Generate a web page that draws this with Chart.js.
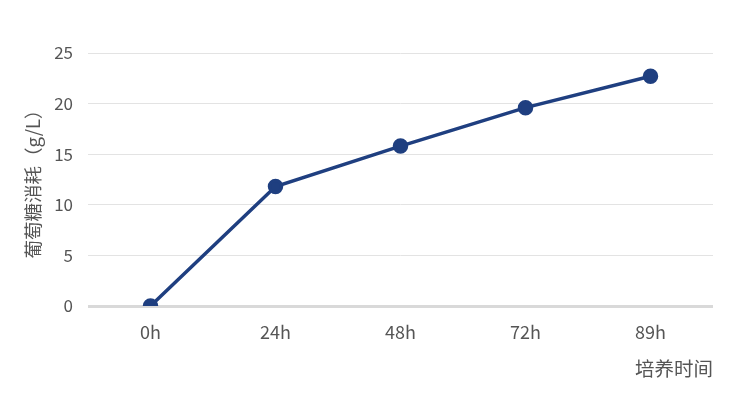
<!DOCTYPE html>
<html>
<head>
<meta charset="utf-8">
<script src="https://cdn.jsdelivr.net/npm/chart.js@4"></script>
<style>
  html, body { margin: 0; padding: 0; background: #fff; }
  #wrap { width: 730px; height: 400px; }
</style>
</head>
<body>
<div id="wrap"><canvas id="grafico" width="730" height="400"></canvas></div>
<script>
// datos
const horas = ['0h', '24h', '48h', '72h', '89h'];
const consumo = [0, 11.8, 15.8, 19.6, 22.7];
const ticksY = [0, 5, 10, 15, 20, 25];

const fuente = '"Noto Sans CJK SC", "Noto Sans", sans-serif';
const colorTexto = '#555555';
const azul = '#1f3f80';

const ctx = document.getElementById('grafico').getContext('2d');

new Chart(ctx, {
    type: 'line',
    data: {
        labels: horas,
        datasets: [{
            label: '葡萄糖消耗',
            data: consumo,
            borderColor: azul,
            backgroundColor: azul,
            borderWidth: 3.5,
            pointRadius: 6,
            pointHoverRadius: 6,
            pointBackgroundColor: azul,
            pointBorderColor: azul,
            tension: 0
        }]
    },
    options: {
        responsive: false,
        animation: false,
        layout: { padding: { top: 53, left: 0, right: 17, bottom: 0 } },
        plugins: {
            legend: { display: false },
            tooltip: { enabled: false }
        },
        scales: {
            x: {
                offset: true,
                grid: { display: false, drawTicks: false },
                border: { display: false },
                ticks: {
                    color: colorTexto,
                    font: { family: fuente, size: 18 },
                    padding: 15,
                    maxRotation: 0
                },
                title: {
                    display: true,
                    text: '培养时间',
                    align: 'end',
                    color: colorTexto,
                    font: { family: fuente, size: 19.5 },
                    padding: { top: 0, bottom: 20 }
                },
                afterFit: (scale) => { scale.height = 94; }
            },
            y: {
                min: 0,
                max: 25,
                afterBuildTicks: (scale) => { scale.ticks = ticksY.map(v => ({ value: v })); },
                grid: {
                    drawTicks: false,
                    color: (c) => c.tick && c.tick.value === 0 ? '#d9d9d9' : '#e3e3e3',
                    lineWidth: (c) => c.tick && c.tick.value === 0 ? 3 : 1
                },
                border: { display: false },
                ticks: {
                    color: colorTexto,
                    font: { family: fuente, size: 17 },
                    padding: 15
                },
                title: {
                    display: true,
                    text: '葡萄糖消耗（g/L）',
                    color: colorTexto,
                    font: { family: fuente, size: 18.5 },
                    padding: { top: 22, bottom: 0 }
                },
                afterFit: (scale) => { scale.width = 88; }
            }
        }
    }
});
</script>
</body>
</html>
